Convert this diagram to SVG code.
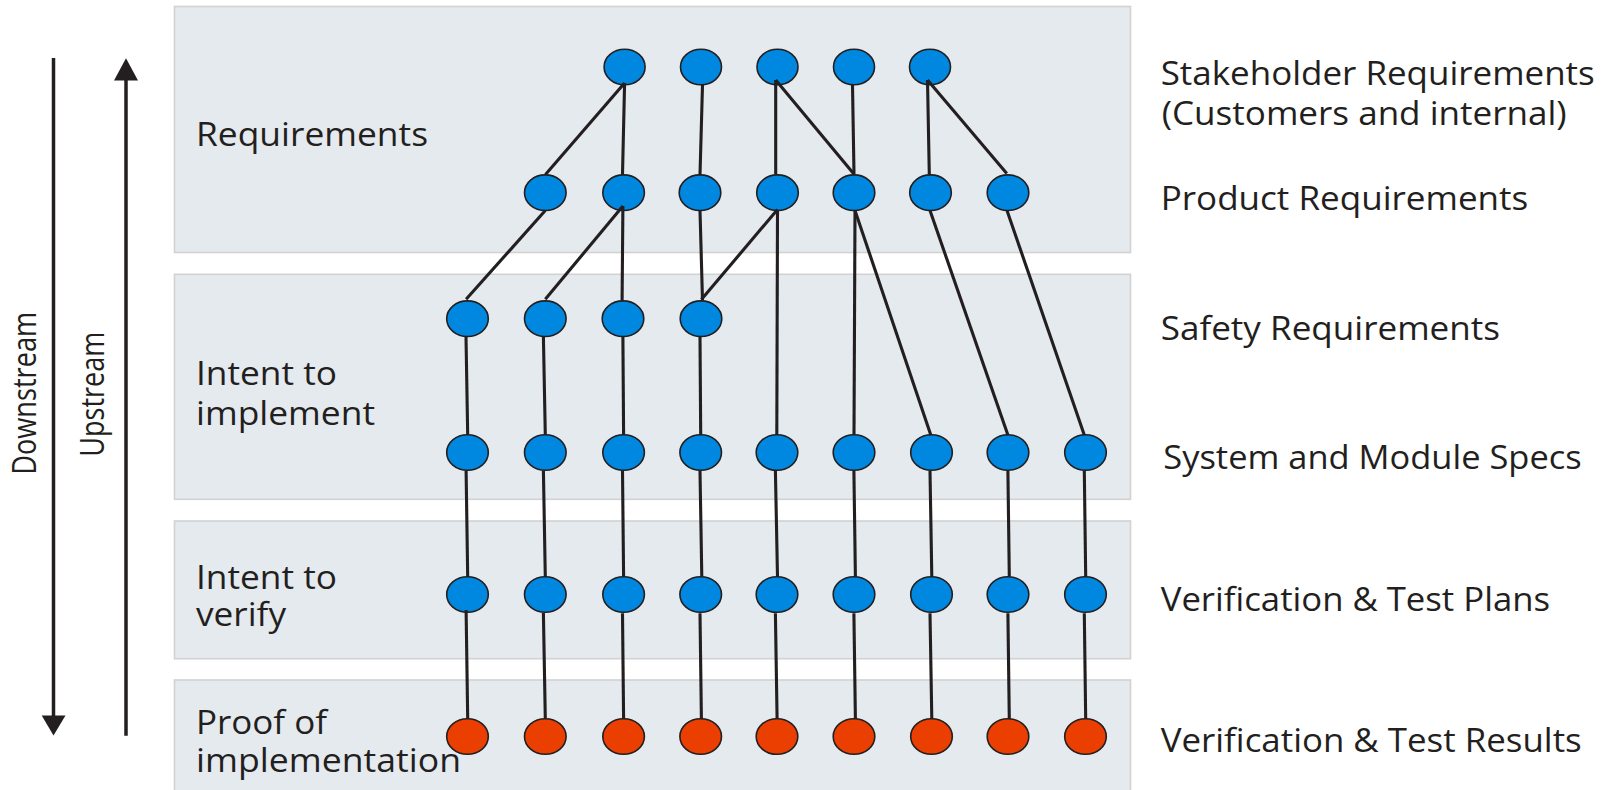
<svg xmlns="http://www.w3.org/2000/svg" width="1610" height="790" viewBox="0 0 1610 790">
<style>
.panel{fill:#E5EAEF;stroke:#D3D1D1;stroke-width:1.6}
.lbl{font-family:"Open Sans","Noto Sans","Liberation Sans",sans-serif;font-size:33px;fill:#231F20}
.side{font-family:"Open Sans","Noto Sans","Liberation Sans",sans-serif;font-size:32px;fill:#231F20}
.b{fill:#0088E0;stroke:#231F20;stroke-width:1.6}
.o{fill:#EA3F00;stroke:#231F20;stroke-width:1.6}
.c line{stroke:#231F20;stroke-width:3.1;stroke-linecap:butt}
.arr{stroke:#231F20;stroke-width:3.5}
</style>
<rect width="1610" height="790" fill="#FFFFFF"/>
<g id="panels">
<rect class="panel" x="174.5" y="6.5" width="956" height="246"/>
<rect class="panel" x="174.5" y="274.3" width="956" height="225"/>
<rect class="panel" x="174.5" y="521" width="956" height="137.7"/>
<rect class="panel" x="174.5" y="680" width="956" height="130"/>
</g>
<g id="arrows">
<line class="arr" x1="53.5" y1="58" x2="53.5" y2="718"/>
<polygon points="41.7,715.5 65.5,715.5 53.5,735.5" fill="#231F20"/>
<line class="arr" x1="126" y1="78" x2="126" y2="735.7"/>
<polygon points="114,80.5 138,80.5 126,58.3" fill="#231F20"/>
<text class="side" transform="translate(36,393.3) rotate(-90)" text-anchor="middle" textLength="163" lengthAdjust="spacingAndGlyphs">Downstream</text>
<text class="side" transform="translate(104,394.2) rotate(-90)" text-anchor="middle" textLength="125" lengthAdjust="spacingAndGlyphs">Upstream</text>
</g>
<g id="lane-labels">
<text class="lbl" x="196" y="145.7" textLength="232" lengthAdjust="spacingAndGlyphs">Requirements</text>
<text class="lbl" x="196" y="385" textLength="141" lengthAdjust="spacingAndGlyphs">Intent to</text>
<text class="lbl" x="196" y="425" textLength="179" lengthAdjust="spacingAndGlyphs">implement</text>
<text class="lbl" x="196" y="589.3" textLength="141" lengthAdjust="spacingAndGlyphs">Intent to</text>
<text class="lbl" x="196" y="626" textLength="90" lengthAdjust="spacingAndGlyphs">verify</text>
<text class="lbl" x="196" y="734.3" textLength="131" lengthAdjust="spacingAndGlyphs">Proof of</text>
<text class="lbl" x="196" y="771.7" textLength="265" lengthAdjust="spacingAndGlyphs">implementation</text>
</g>
<g id="level-labels">
<text class="lbl" x="1160.7" y="85" textLength="434" lengthAdjust="spacingAndGlyphs">Stakeholder Requirements</text>
<text class="lbl" x="1161.7" y="124.5" textLength="405" lengthAdjust="spacingAndGlyphs">(Customers and internal)</text>
<text class="lbl" x="1160.7" y="209.5" textLength="367.6" lengthAdjust="spacingAndGlyphs">Product Requirements</text>
<text class="lbl" x="1160.7" y="340" textLength="339.3" lengthAdjust="spacingAndGlyphs">Safety Requirements</text>
<text class="lbl" x="1163.3" y="469" textLength="418.4" lengthAdjust="spacingAndGlyphs">System and Module Specs</text>
<text class="lbl" x="1160.7" y="611" textLength="389.3" lengthAdjust="spacingAndGlyphs">Verification &amp; Test Plans</text>
<text class="lbl" x="1160.7" y="751.7" textLength="421" lengthAdjust="spacingAndGlyphs">Verification &amp; Test Results</text>
</g>
<g id="stakeholder-nodes">
<ellipse id="t0" class="b" cx="624.6" cy="67" rx="20.5" ry="17.8"/>
<ellipse id="t1" class="b" cx="701" cy="67" rx="20.5" ry="17.8"/>
<ellipse id="t2" class="b" cx="777.5" cy="67" rx="20.5" ry="17.8"/>
<ellipse id="t3" class="b" cx="854" cy="67" rx="20.5" ry="17.8"/>
<ellipse id="t4" class="b" cx="930" cy="67" rx="20.5" ry="17.8"/>
</g>
<g id="product-nodes">
<ellipse id="p0" class="b" cx="545.3" cy="192.7" rx="20.8" ry="17.8"/>
<ellipse id="p1" class="b" cx="623.6" cy="192.7" rx="20.8" ry="17.8"/>
<ellipse id="p2" class="b" cx="700" cy="192.7" rx="20.8" ry="17.8"/>
<ellipse id="p3" class="b" cx="777.5" cy="192.7" rx="20.8" ry="17.8"/>
<ellipse id="p4" class="b" cx="854" cy="192.7" rx="20.8" ry="17.8"/>
<ellipse id="p5" class="b" cx="930.5" cy="192.7" rx="20.8" ry="17.8"/>
<ellipse id="p6" class="b" cx="1008" cy="192.7" rx="20.8" ry="17.8"/>
</g>
<g id="safety-nodes">
<ellipse id="s0" class="b" cx="467.5" cy="318.7" rx="20.8" ry="17.8"/>
<ellipse id="s1" class="b" cx="545.3" cy="318.7" rx="20.8" ry="17.8"/>
<ellipse id="s2" class="b" cx="623" cy="318.7" rx="20.8" ry="17.8"/>
<ellipse id="s3" class="b" cx="701" cy="318.7" rx="20.8" ry="17.8"/>
</g>
<g id="spec-nodes">
<ellipse id="m0" class="b" cx="467.5" cy="452.5" rx="20.8" ry="17.8"/>
<ellipse id="m1" class="b" cx="545.3" cy="452.5" rx="20.8" ry="17.8"/>
<ellipse id="m2" class="b" cx="623.6" cy="452.5" rx="20.8" ry="17.8"/>
<ellipse id="m3" class="b" cx="700.7" cy="452.5" rx="20.8" ry="17.8"/>
<ellipse id="m4" class="b" cx="777" cy="452.5" rx="20.8" ry="17.8"/>
<ellipse id="m5" class="b" cx="854" cy="452.5" rx="20.8" ry="17.8"/>
<ellipse id="m6" class="b" cx="931.5" cy="452.5" rx="20.8" ry="17.8"/>
<ellipse id="m7" class="b" cx="1008" cy="452.5" rx="20.8" ry="17.8"/>
<ellipse id="m8" class="b" cx="1085.5" cy="452.5" rx="20.8" ry="17.8"/>
</g>
<g id="plan-nodes">
<ellipse id="v0" class="b" cx="467.5" cy="594.5" rx="20.8" ry="17.8"/>
<ellipse id="v1" class="b" cx="545.3" cy="594.5" rx="20.8" ry="17.8"/>
<ellipse id="v2" class="b" cx="623.6" cy="594.5" rx="20.8" ry="17.8"/>
<ellipse id="v3" class="b" cx="700.7" cy="594.5" rx="20.8" ry="17.8"/>
<ellipse id="v4" class="b" cx="777" cy="594.5" rx="20.8" ry="17.8"/>
<ellipse id="v5" class="b" cx="854" cy="594.5" rx="20.8" ry="17.8"/>
<ellipse id="v6" class="b" cx="931.5" cy="594.5" rx="20.8" ry="17.8"/>
<ellipse id="v7" class="b" cx="1008" cy="594.5" rx="20.8" ry="17.8"/>
<ellipse id="v8" class="b" cx="1085.5" cy="594.5" rx="20.8" ry="17.8"/>
</g>
<g id="result-nodes">
<ellipse id="r0" class="o" cx="467.5" cy="736.5" rx="20.8" ry="17.8"/>
<ellipse id="r1" class="o" cx="545.3" cy="736.5" rx="20.8" ry="17.8"/>
<ellipse id="r2" class="o" cx="623.6" cy="736.5" rx="20.8" ry="17.8"/>
<ellipse id="r3" class="o" cx="700.7" cy="736.5" rx="20.8" ry="17.8"/>
<ellipse id="r4" class="o" cx="777" cy="736.5" rx="20.8" ry="17.8"/>
<ellipse id="r5" class="o" cx="854" cy="736.5" rx="20.8" ry="17.8"/>
<ellipse id="r6" class="o" cx="931.5" cy="736.5" rx="20.8" ry="17.8"/>
<ellipse id="r7" class="o" cx="1008" cy="736.5" rx="20.8" ry="17.8"/>
<ellipse id="r8" class="o" cx="1085.5" cy="736.5" rx="20.8" ry="17.8"/>
</g>
<g id="connectors" class="c">
<line x1="624.6" y1="83" x2="545.5" y2="174.5"/>
<line x1="624.6" y1="83" x2="622.5" y2="174.5"/>
<line x1="702.5" y1="85" x2="700" y2="174.5"/>
<line x1="775.7" y1="80" x2="775.7" y2="174.5"/>
<line x1="775.7" y1="80" x2="853.9" y2="174"/>
<line x1="852.5" y1="85" x2="854" y2="174"/>
<line x1="927.5" y1="80" x2="929.3" y2="174.5"/>
<line x1="927.5" y1="80" x2="1006.8" y2="173.5"/>
<line x1="545.3" y1="210.5" x2="466.1" y2="299.3"/>
<line x1="622.9" y1="206" x2="545.3" y2="299.3"/>
<line x1="622.9" y1="206" x2="622.1" y2="300.5"/>
<line x1="700" y1="210.5" x2="702.5" y2="300.5"/>
<line x1="777.5" y1="209.5" x2="701.4" y2="299.5"/>
<line x1="777.5" y1="210.5" x2="776.8" y2="434.5"/>
<line x1="855" y1="210.5" x2="854" y2="434.5"/>
<line x1="855" y1="210.5" x2="930.8" y2="435"/>
<line x1="930" y1="210.5" x2="1007.9" y2="435"/>
<line x1="1007" y1="210.5" x2="1084.3" y2="435"/>
<line x1="466" y1="336.7" x2="467.7" y2="434.5"/>
<line x1="543.4" y1="336.7" x2="545.3" y2="434.5"/>
<line x1="622.9" y1="336.7" x2="623.6" y2="434.5"/>
<line x1="700" y1="336.7" x2="700.7" y2="434.5"/>
<line x1="466.1" y1="470.7" x2="467.7" y2="576.7"/>
<line x1="543.4" y1="470.7" x2="545.3" y2="576.7"/>
<line x1="622.5" y1="470.7" x2="623.6" y2="576.7"/>
<line x1="700" y1="470.7" x2="701.8" y2="576.7"/>
<line x1="775.4" y1="470.7" x2="777.5" y2="576.7"/>
<line x1="853.9" y1="470.7" x2="855.4" y2="576.7"/>
<line x1="930" y1="470.7" x2="931.8" y2="576.7"/>
<line x1="1007.9" y1="470.7" x2="1009.3" y2="576.7"/>
<line x1="1084.3" y1="470.7" x2="1085.7" y2="576.7"/>
<line x1="466.1" y1="610" x2="467.7" y2="718.5"/>
<line x1="543.4" y1="613" x2="545.3" y2="718.5"/>
<line x1="622.5" y1="613.3" x2="623.6" y2="719"/>
<line x1="700" y1="613.3" x2="701.4" y2="719"/>
<line x1="775.4" y1="613.3" x2="777.1" y2="719"/>
<line x1="853.9" y1="613.3" x2="855.4" y2="719"/>
<line x1="930" y1="613.3" x2="931.8" y2="719"/>
<line x1="1007.9" y1="613.3" x2="1009.3" y2="719"/>
<line x1="1084.3" y1="613.3" x2="1085.7" y2="719"/>
</g>
</svg>
